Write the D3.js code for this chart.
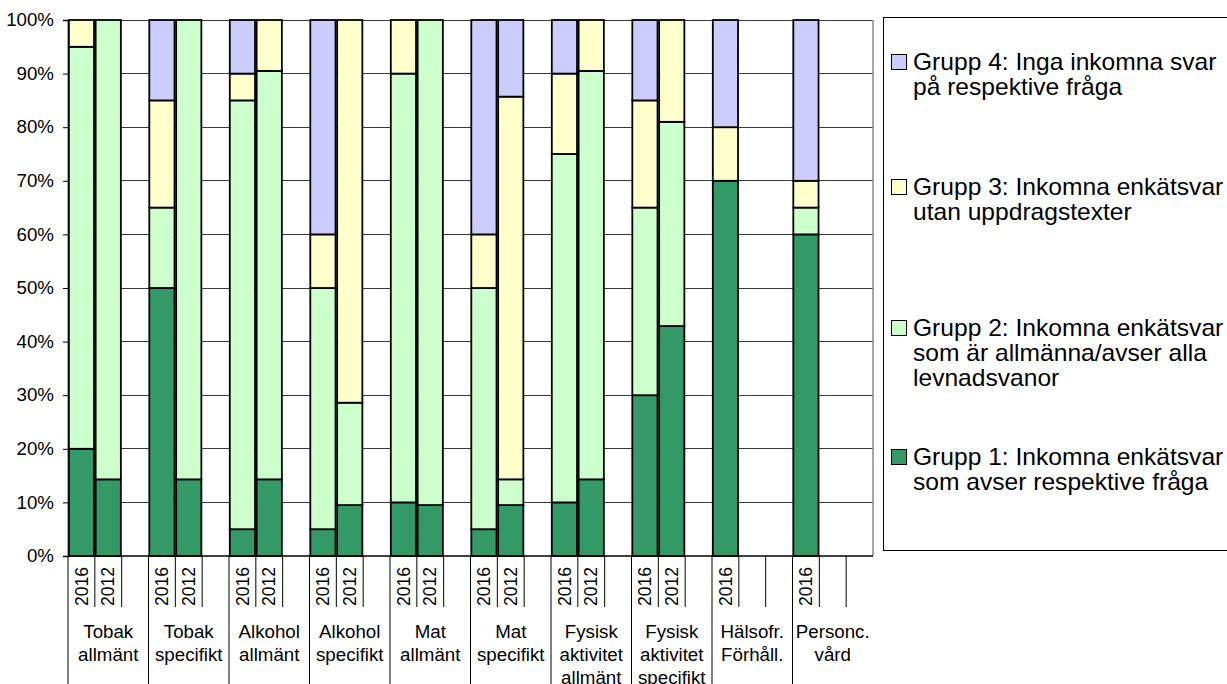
<!DOCTYPE html>
<html>
<head>
<meta charset="utf-8">
<script src="https://cdn.jsdelivr.net/npm/d3@7/dist/d3.min.js"></script>
<style>
  html, body { margin: 0; padding: 0; background: #fff; }
  svg { display: block; font-family: "Liberation Sans", Arial, sans-serif; }
</style>
</head>
<body>
<svg id="chart" width="1227" height="684"></svg>
<script>
// Question groups (labels under the axis, one entry per line)
const groupLabels = [
  ["Tobak", "allmänt"],
  ["Tobak", "specifikt"],
  ["Alkohol", "allmänt"],
  ["Alkohol", "specifikt"],
  ["Mat", "allmänt"],
  ["Mat", "specifikt"],
  ["Fysisk", "aktivitet", "allmänt"],
  ["Fysisk", "aktivitet", "specifikt"],
  ["Hälsofr.", "Förhåll."],
  ["Personc.", "vård"]
];
// Survey years shown for each group
const groupYears = [
  ["2016", "2012"], ["2016", "2012"], ["2016", "2012"], ["2016", "2012"],
  ["2016", "2012"], ["2016", "2012"], ["2016", "2012"], ["2016", "2012"],
  ["2016"], ["2016"]
];
// Shares (%) per bar, in the order group/year above
const grupp1 = [20, 14.3, 50, 14.3, 5, 14.3, 5, 9.5, 10, 9.5, 5, 9.5, 10, 14.3, 30, 42.9, 70, 60];
const grupp2 = [75, 85.7, 15, 85.7, 80, 76.2, 45, 19.1, 80, 90.5, 45, 4.8, 65, 76.2, 35, 38.1, 0, 5];
const grupp3 = [5, 0, 20, 0, 5, 9.5, 10, 71.4, 10, 0, 10, 71.4, 15, 9.5, 20, 19.0, 10, 5];
const grupp4 = [0, 0, 15, 0, 10, 0, 40, 0, 0, 0, 40, 14.3, 10, 0, 15, 0, 20, 30];

const seriesKeys = ["g1", "g2", "g3", "g4"];
const seriesColors = ["#339966", "#CCFFCC", "#FFFFCC", "#CCCCFF"];
const legendLabels = [
  ["Grupp 1: Inkomna enkätsvar", "som avser respektive fråga"],
  ["Grupp 2: Inkomna enkätsvar", "som är allmänna/avser alla", "levnadsvanor"],
  ["Grupp 3: Inkomna enkätsvar", "utan uppdragstexter"],
  ["Grupp 4: Inga inkomna svar", "på respektive fråga"]
];
const yTicks = [0, 10, 20, 30, 40, 50, 60, 70, 80, 90, 100];

const svg = d3.select("#chart");
const plot = { left: 68, right: 873, top: 20, bottom: 556 };
const axisFont = 17.5;
const textStretch = 1.07;   // slightly wide lettering
const slotsPerGroup = 3;

// one slot per possible bar, third slot of each group left empty
const slotKeys = [];
groupLabels.forEach((g, gi) => {
  for (let s = 0; s < slotsPerGroup; s++) slotKeys.push(gi + "-" + s);
});

// bar rows
const rows = [];
let k = 0;
groupYears.forEach((years, gi) => {
  years.forEach((yr, si) => {
    rows.push({ slot: gi + "-" + si, year: yr,
      g1: grupp1[k], g2: grupp2[k], g3: grupp3[k], g4: grupp4[k] });
    k++;
  });
});

const x = d3.scaleBand().domain(slotKeys)
  .range([plot.left, plot.right]).paddingInner(0.06).paddingOuter(0.03);
const step = (plot.right - plot.left) / slotKeys.length;
const y = d3.scaleLinear().domain([0, 100]).range([plot.bottom, plot.top]);

// horizontal gridlines
svg.append("g").selectAll("line").data(yTicks.filter(d => d > 0)).join("line")
  .attr("x1", plot.left).attr("x2", plot.right)
  .attr("y1", d => y(d)).attr("y2", d => y(d))
  .attr("stroke", "#3a3a3a").attr("stroke-width", 1).attr("shape-rendering", "crispEdges");
// right border of the plot area
svg.append("line")
  .attr("x1", plot.right).attr("x2", plot.right)
  .attr("y1", plot.top).attr("y2", plot.bottom)
  .attr("stroke", "#888").attr("stroke-width", 1.5);

// stacked bars
const stacked = d3.stack().keys(seriesKeys)(rows);
svg.append("g").selectAll("g").data(stacked).join("g")
  .attr("fill", (d, i) => seriesColors[i])
  .selectAll("rect").data(d => d.filter(p => p[1] - p[0] > 0)).join("rect")
  .attr("x", d => x(d.data.slot))
  .attr("width", x.bandwidth())
  .attr("y", d => y(d[1]))
  .attr("height", d => y(d[0]) - y(d[1]))
  .attr("stroke", "#000").attr("stroke-width", 1.8);

// y axis
const yAxis = svg.append("g").attr("transform", `translate(${plot.left},0)`)
  .call(d3.axisLeft(y).tickValues(yTicks).tickSize(5).tickFormat(d => d + "%"));
yAxis.select(".domain").attr("stroke", "#000").attr("stroke-width", 1.5);
yAxis.selectAll(".tick line").attr("stroke", "#000");
yAxis.selectAll("text").attr("font-size", axisFont).attr("fill", "#000")
  .attr("font-family", "Liberation Sans, Arial, sans-serif")
  .attr("x", -14 / textStretch).attr("transform", `scale(${textStretch},1)`);

// x axis line
svg.append("line")
  .attr("x1", plot.left).attr("x2", plot.right)
  .attr("y1", plot.bottom).attr("y2", plot.bottom)
  .attr("stroke", "#000").attr("stroke-width", 1.5);

// slot separators below the axis: long ones between groups, short ones within
const yearBottom = 607;
const bounds = d3.range(1, slotKeys.length);
svg.append("g").selectAll("line").data(bounds).join("line")
  .attr("x1", i => plot.left + i * step).attr("x2", i => plot.left + i * step)
  .attr("y1", plot.bottom)
  .attr("y2", i => i % slotsPerGroup === 0 ? 684 : yearBottom)
  .attr("stroke", "#000").attr("stroke-width", 1);
svg.append("line")
  .attr("x1", plot.left).attr("x2", plot.left)
  .attr("y1", plot.bottom).attr("y2", 684)
  .attr("stroke", "#000").attr("stroke-width", 1);

// year labels, rotated
svg.append("g").selectAll("text").data(rows).join("text")
  .attr("transform", d => `translate(${x(d.slot) + x.bandwidth() / 2},${yearBottom - 1}) scale(${textStretch},1) rotate(-90)`)
  .attr("text-anchor", "start").attr("dominant-baseline", "central")
  .attr("font-size", axisFont).attr("fill", "#000")
  .text(d => d.year);

// group labels
const gl = svg.append("g").selectAll("text").data(groupLabels).join("text")
  .attr("transform", (d, i) =>
    `translate(${plot.left + (i * slotsPerGroup + slotsPerGroup / 2) * step},638) scale(${textStretch},1)`)
  .attr("text-anchor", "middle").attr("font-size", axisFont).attr("fill", "#000");
gl.selectAll("tspan").data(d => d).join("tspan")
  .attr("x", 0)
  .attr("dy", (d, i) => i === 0 ? 0 : 23)
  .text(d => d);

// legend
const legend = svg.append("g");
legend.append("rect")
  .attr("x", 883.5).attr("y", 17.5).attr("width", 360).attr("height", 533)
  .attr("fill", "#fff").attr("stroke", "#000").attr("stroke-width", 1);
const legendBase = [465, 336, 195, 70];
const legendFont = 23;
const legendTextX = 913;
seriesKeys.forEach((key, i) => {
  const by = legendBase[i];
  legend.append("rect")
    .attr("x", 891.5).attr("y", by - 15.5).attr("width", 15).attr("height", 15)
    .attr("fill", seriesColors[i]).attr("stroke", "#000").attr("stroke-width", 1);
  const t = legend.append("text")
    .attr("transform", `translate(${legendTextX},${by}) scale(${textStretch},1)`)
    .attr("font-size", legendFont).attr("fill", "#000");
  t.selectAll("tspan").data(legendLabels[i]).join("tspan")
    .attr("x", 0).attr("dy", (d, j) => j === 0 ? 0 : 25).text(d => d);
});
</script>
</body>
</html>
